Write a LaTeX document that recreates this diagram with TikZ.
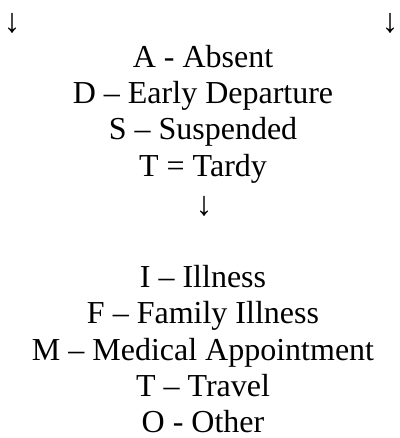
\documentclass[tikz,border=0pt]{standalone}
\usepackage{fontspec}
\setmainfont{Liberation Serif}
\begin{document}
\begin{tikzpicture}[x=1pt,y=1pt,
  lbl/.style={anchor=base,inner sep=0pt,font=\fontsize{32}{36}\selectfont},
  arr/.style={anchor=center,inner sep=0pt,font=\fontsize{34}{36}\selectfont}]
\useasboundingbox (0,0) rectangle (399,-438);
\node[arr] (al) at (12,-23.5) {↓};
\node[arr] (ar) at (390,-23.5) {↓};
\node[lbl] (a) at (203,-68) {A - Absent};
\node[lbl] (d) at (203,-104) {D – Early Departure};
\node[lbl] (s) at (203,-140) {S – Suspended};
\node[lbl] (t) at (203,-177) {T = Tardy};
\node[arr] (am) at (204,-206.5) {↓};
\node[lbl] (i) at (203,-287) {I – Illness};
\node[lbl] (f) at (203,-323.5) {F – Family Illness};
\node[lbl] (m) at (203,-360) {M – Medical Appointment};
\node[lbl] (tr) at (203,-396.5) {T – Travel};
\node[lbl] (o) at (203,-432.5) {O - Other};
\end{tikzpicture}
\end{document}
